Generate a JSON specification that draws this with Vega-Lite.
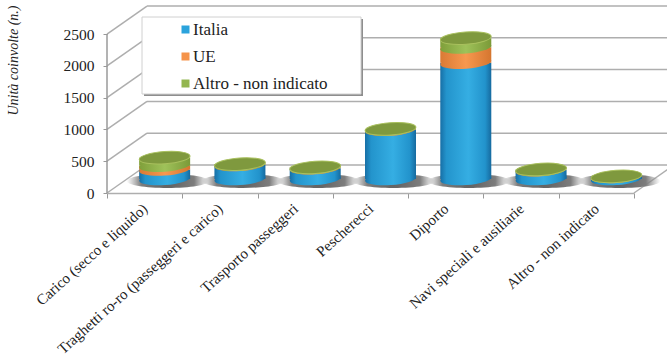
{
"$schema":"https://vega.github.io/schema/vega-lite/v6.json",
"width":560,"height":193,
"autosize":"none",
"padding":{"left":107,"top":0,"right":0,"bottom":168},
"background":"white",
"config":{"view":{"stroke":null},"font":"Liberation Serif"},
"layer":[
{"data":{"values":[{"v":0},{"v":500},{"v":1000},{"v":1500},{"v":2000},{"v":2500}]},
 "mark":{"type":"rule","stroke":"#aeaeae","strokeWidth":1.5,"yOffset":-28,"y2Offset":-28},
 "encoding":{"x":{"value":40},"x2":{"value":560},
  "y":{"field":"v","type":"quantitative","scale":{"domain":[0,3035],"nice":false},
   "axis":{"values":[0,500,1000,1500,2000,2500],"format":"d","labelOverlap":false,"grid":false,"domain":false,"tickSize":4,"tickColor":"#999","labelFont":"Liberation Serif","labelFontSize":15.5,"labelColor":"#222","labelPadding":9,"title":"Unità coinvolte (n.)","titleFont":"Liberation Serif","titleFontStyle":"italic","titleFontWeight":"normal","titleFontSize":14,"titleColor":"#222","titleX":-87,"titleY":60,"titleAnchor":"middle"}},
  "y2":{"field":"v"}}},
{"data":{"values":[{"v":0},{"v":500},{"v":1000},{"v":1500},{"v":2000},{"v":2500}]},
 "mark":{"type":"rule","stroke":"#aeaeae","strokeWidth":1.5,"y2Offset":-28},
 "encoding":{"x":{"value":0},"x2":{"value":40},"y":{"field":"v","type":"quantitative","axis":{"values":[0,500,1000,1500,2000,2500]}},"y2":{"field":"v"}}},
{"data":{"values":[{"v":0}]},
 "mark":{"type":"rule","stroke":"#aeaeae","strokeWidth":1.5,"y2Offset":-28},
 "encoding":{"x":{"value":527},"x2":{"value":567},"y":{"field":"v","type":"quantitative","axis":{"values":[0,500,1000,1500,2000,2500]}},"y2":{"field":"v"}}},
{"data":{"values":[{"v":0,"t":2500}]},
 "mark":{"type":"rule","stroke":"#9a9a9a","strokeWidth":1.5},
 "encoding":{"x":{"value":0},"y":{"field":"v","type":"quantitative","axis":{"values":[0,500,1000,1500,2000,2500]}},"y2":{"field":"t"}}},
{"data":{"values":[{"box":"legenda"}]},
 "layer":[
 {"mark":{"type":"rect","fill":"#8e8e8e"},"encoding":{"x":{"value":37},"x2":{"value":256},"y":{"value":19},"y2":{"value":96}}},
 {"mark":{"type":"rect","fill":"white","stroke":"#d0d0d0","strokeWidth":1},"encoding":{"x":{"value":35},"x2":{"value":254},"y":{"value":17},"y2":{"value":94}}}
 ]},
{"data":{"values":[
{"cat":"Carico (secco e liquido)","serie":"Italia","ord":1,"valore":150},
{"cat":"Carico (secco e liquido)","serie":"UE","ord":2,"valore":60},
{"cat":"Carico (secco e liquido)","serie":"Altro - non indicato","ord":3,"valore":125},
{"cat":"Traghetti ro-ro (passeggeri e carico)","serie":"Italia","ord":1,"valore":220},
{"cat":"Traghetti ro-ro (passeggeri e carico)","serie":"UE","ord":2,"valore":5},
{"cat":"Traghetti ro-ro (passeggeri e carico)","serie":"Altro - non indicato","ord":3,"valore":10},
{"cat":"Trasporto passeggeri","serie":"Italia","ord":1,"valore":170},
{"cat":"Trasporto passeggeri","serie":"UE","ord":2,"valore":5},
{"cat":"Trasporto passeggeri","serie":"Altro - non indicato","ord":3,"valore":8},
{"cat":"Pescherecci","serie":"Italia","ord":1,"valore":775},
{"cat":"Pescherecci","serie":"UE","ord":2,"valore":5},
{"cat":"Pescherecci","serie":"Altro - non indicato","ord":3,"valore":8},
{"cat":"Diporto","serie":"Italia","ord":1,"valore":1830},
{"cat":"Diporto","serie":"UE","ord":2,"valore":240},
{"cat":"Diporto","serie":"Altro - non indicato","ord":3,"valore":145},
{"cat":"Navi speciali e ausiliarie","serie":"Italia","ord":1,"valore":140},
{"cat":"Navi speciali e ausiliarie","serie":"UE","ord":2,"valore":3},
{"cat":"Navi speciali e ausiliarie","serie":"Altro - non indicato","ord":3,"valore":7},
{"cat":"Altro - non indicato","serie":"Italia","ord":1,"valore":35},
{"cat":"Altro - non indicato","serie":"UE","ord":2,"valore":2},
{"cat":"Altro - non indicato","serie":"Altro - non indicato","ord":3,"valore":3}
]},
 "transform":[{"stack":"valore","groupby":["cat"],"sort":[{"field":"ord","order":"ascending"}],"as":["da","a"]}],
 "encoding":{
  "x":{"field":"cat","type":"nominal","sort":null,"scale":{"range":[0,527],"paddingInner":0,"paddingOuter":0},
   "axis":{"title":null,"tickBand":"extent","domainColor":"#aeaeae","domainWidth":1.5,"tickColor":"#999","tickSize":5,"labelAngle":-42,"labelAlign":"right","labelBaseline":"middle","labelFont":"Liberation Serif","labelFontSize":15,"labelColor":"#222","labelPadding":8,"labelLimit":300}},
  "y":{"field":"da","type":"quantitative","axis":{"values":[0,500,1000,1500,2000,2500]}}
 },
 "layer":[
 {"mark":{"type":"point","filled":true,"opacity":1,"size":0},
  "encoding":{
   "color":{"field":"serie","type":"nominal",
    "scale":{"domain":["Italia","UE","Altro - non indicato"],"range":["#2ba3dc","#f5934a","#93b650"]},
    "legend":{"orient":"none","legendX":70,"legendY":21,"title":null,"symbolType":"square","symbolSize":64,"symbolOpacity":1,"symbolStrokeWidth":0,"labelFontSize":17,"labelColor":"#222","labelFont":"Liberation Serif","rowPadding":9,"labelOffset":-1,"padding":0}}}},
 {"transform":[{"filter":"datum.ord==1"}],
  "mark":{"type":"point","shape":"M-1,0A1,0.17,0,1,1,1,0A1,0.17,0,1,1,-1,0Z","size":6724,"filled":true,"opacity":1,"xOffset":23,"yOffset":-12,
   "fill":{"gradient":"radial","stops":[{"offset":0,"color":"#5f5f5f"},{"offset":0.65,"color":"#7d7d7d"},{"offset":1,"color":"rgba(150,150,150,0)"}]}}},
 {"transform":[{"filter":"datum.ord==1"}],
  "mark":{"type":"point","shape":"M-1,0A1,0.24,0,1,1,1,0A1,0.24,0,1,1,-1,0Z","size":2601,"filled":true,"opacity":1,"angle":-4,"xOffset":20,"yOffset":-14,
   "fill":{"gradient":"linear","x1":0,"x2":1,"y1":0,"y2":0,"stops":[{"offset":0,"color":"#176fa6"},{"offset":0.12,"color":"#2394cc"},{"offset":0.55,"color":"#35aee3"},{"offset":0.88,"color":"#2293cc"},{"offset":1,"color":"#166a9f"}]}}},
 {"transform":[{"filter":"datum.ord==1"}],
  "mark":{"type":"bar","size":51,"xOffset":20,"yOffset":-14,"y2Offset":-14,
   "fill":{"gradient":"linear","x1":0,"x2":1,"y1":0,"y2":0,"stops":[{"offset":0,"color":"#176fa6"},{"offset":0.12,"color":"#2394cc"},{"offset":0.55,"color":"#35aee3"},{"offset":0.88,"color":"#2293cc"},{"offset":1,"color":"#166a9f"}]}},
  "encoding":{"y2":{"field":"a"}}},
 {"transform":[{"filter":"datum.ord==2"}],
  "mark":{"type":"point","shape":"M-1,0A1,0.24,0,1,1,1,0A1,0.24,0,1,1,-1,0Z","size":2601,"filled":true,"opacity":1,"angle":-4,"xOffset":20,"yOffset":-14,
   "fill":{"gradient":"linear","x1":0,"x2":1,"y1":0,"y2":0,"stops":[{"offset":0,"color":"#d97a35"},{"offset":0.5,"color":"#f7984f"},{"offset":1,"color":"#d5762f"}]}}},
 {"transform":[{"filter":"datum.ord==2"}],
  "mark":{"type":"bar","size":51,"xOffset":20,"yOffset":-14,"y2Offset":-14,
   "fill":{"gradient":"linear","x1":0,"x2":1,"y1":0,"y2":0,"stops":[{"offset":0,"color":"#d97a35"},{"offset":0.5,"color":"#f7984f"},{"offset":1,"color":"#d5762f"}]}},
  "encoding":{"y2":{"field":"a"}}},
 {"transform":[{"filter":"datum.ord==3"}],
  "mark":{"type":"point","shape":"M-1,0A1,0.24,0,1,1,1,0A1,0.24,0,1,1,-1,0Z","size":2601,"filled":true,"opacity":1,"angle":-4,"xOffset":20,"yOffset":-14,
   "fill":{"gradient":"linear","x1":0,"x2":1,"y1":0,"y2":0,"stops":[{"offset":0,"color":"#7f9f3a"},{"offset":0.5,"color":"#9fc25a"},{"offset":1,"color":"#7b9a38"}]}}},
 {"transform":[{"filter":"datum.ord==3"}],
  "mark":{"type":"bar","size":51,"xOffset":20,"yOffset":-14,"y2Offset":-14,
   "fill":{"gradient":"linear","x1":0,"x2":1,"y1":0,"y2":0,"stops":[{"offset":0,"color":"#7f9f3a"},{"offset":0.5,"color":"#9fc25a"},{"offset":1,"color":"#7b9a38"}]}},
  "encoding":{"y2":{"field":"a"}}},
 {"transform":[{"filter":"datum.ord==3"}],
  "mark":{"type":"point","shape":"M-1,0A1,0.24,0,1,1,1,0A1,0.24,0,1,1,-1,0Z","size":2601,"filled":true,"opacity":1,"angle":-4,"xOffset":20,"yOffset":-14,"fill":"#7f993e","stroke":"#a9c05e","strokeWidth":1},
  "encoding":{"y":{"field":"a","type":"quantitative","axis":{"values":[0,500,1000,1500,2000,2500]}}}}
 ]}
]
}
